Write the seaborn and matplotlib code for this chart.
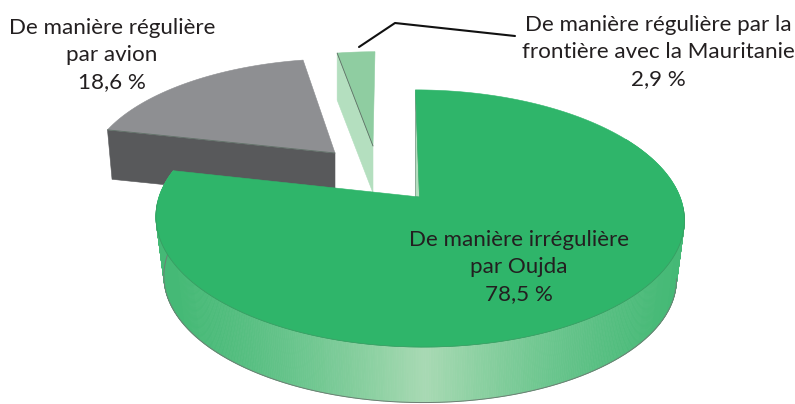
import numpy as np
import seaborn as sns
import matplotlib
matplotlib.use("Agg")
import matplotlib.pyplot as plt

# data
labels = ["De manière irrégulière\npar Oujda\n78,5 %",
          "De manière régulière\npar avion\n18,6 %",
          "De manière régulière par la\nfrontière avec la Mauritanie\n2,9 %"]
shares = [78.5, 18.6, 2.9]

# colours
top_colors = ["#2FB56A", "#8E8F92", "#8FCDA1"]
wall_colors = ["#B4DFBF", "#58595B", "#B4DFBF"]
side_edge = "#45B976"
side_mid = "#A9DAB4"

sns.set_theme(style="white")
plt.rcParams['font.family'] = ['Lato', 'DejaVu Sans']

# layout of each slice in pixels: apex, half axes, skew, thickness, shrink of the lower face
geom = [
    dict(cx=419.5, cy=197, a=125, b=260.5, skew=-4, depth=60, shrink=0.97),
    dict(cx=335, cy=153, a=110, b=243, skew=6, depth=49, shrink=0.98),
    dict(cx=373, cy=146, a=110, b=243, skew=2, depth=47, shrink=1.0),
]
K = 0.167


def project(theta, g, lower=False):
    # theta in degrees clockwise from 12 o'clock, perspective view of the disc
    t = np.radians(theta)
    u, v = np.sin(t), np.cos(t)
    d = 1 + K * v
    dx = g['b'] * u / d + g['skew'] * v
    dy = -g['a'] * v / d
    if lower:
        return g['cx'] + dx * g['shrink'], g['cy'] + g['depth'] + dy * g['shrink']
    return g['cx'] + dx, g['cy'] + dy


def top_face(ax, start, end, g, color):
    th = np.linspace(start, end, 200)
    x, y = project(th, g)
    ax.fill(np.r_[g['cx'], x], np.r_[g['cy'], y], color=color, lw=0.4, zorder=g['z'])


def cut_wall(ax, theta, g, color):
    x0, y0 = project(theta, g)
    x1, y1 = project(theta, g, lower=True)
    xs = [x0, g['cx'], g['cx'], x1]
    ys = [y0, g['cy'], g['cy'] + g['depth'], y1]
    ax.fill(xs, ys, facecolor=color, edgecolor=color, lw=0.4, zorder=g['z'] - 0.5)
    ax.plot([x0, g['cx']], [y0, g['cy']], color="#5f6f66", lw=0.6, zorder=g['z'] + 0.1)


fig, ax = plt.subplots(figsize=(7.95, 4.04), dpi=100)
fig.subplots_adjust(0, 0, 1, 1)
ax.set_xlim(0, 795)
ax.set_ylim(404, 0)
ax.axis('off')

edges = np.r_[0, np.cumsum(shares)] / sum(shares) * 360
main, avion, maur = geom
avion['z'] = 2
maur['z'] = 3
main['z'] = 6

# grey slice
cut_wall(ax, edges[1], avion, wall_colors[1])
top_face(ax, edges[1], edges[2], avion, top_colors[1])

# small green slice
cut_wall(ax, edges[2], maur, wall_colors[2])
top_face(ax, edges[2], edges[3], maur, top_colors[2])

# thin wall at 12 o'clock of the main slice
xa, ya = project(0, main)
ax.fill([xa, main['cx'], main['cx'] - 4], [ya, main['cy'], main['cy']],
        facecolor=wall_colors[0], edgecolor="#6f8f7c", lw=0.5, zorder=4)

# rim of the main slice, lighter towards the front
palette = sns.blend_palette([side_edge, side_mid], n_colors=64)
th = np.linspace(60, edges[1], 500)
for t0, t1 in zip(th[:-1], th[1:]):
    x0, y0 = project(t0, main)
    x1, y1 = project(t1, main)
    x2, y2 = project(t1, main, lower=True)
    x3, y3 = project(t0, main, lower=True)
    w = 1 - min(abs(0.5 * (x0 + x1) - 425) / 262, 1)
    c = palette[int((w ** 1.4) * 63)]
    ax.fill([x0, x1, x2, x3], [y0, y1, y2, y3], facecolor=c, edgecolor=c, lw=0.5, zorder=5)
xb, yb = project(np.linspace(100, edges[1], 300), main, lower=True)
ax.plot(xb, yb, color="#6d7f74", lw=0.7, zorder=5.2)

# main slice on top
top_face(ax, edges[0], edges[1], main, top_colors[0])
xt, yt = project(np.linspace(95, edges[1] - 15, 300), main)
ax.plot(xt, yt, color="#3a9a62", lw=0.5, zorder=6.1)

# leader line
leader_x = [359, 395, 515]
leader_y = [47, 23, 36]
ax.plot(leader_x, leader_y, color="#111111", lw=1.5, zorder=7)

# labels
label_pos = [(519, 267), (112, 55), (658, 52)]
for lab, (tx, ty) in zip(labels, label_pos):
    ax.text(tx, ty, lab, ha='center', va='center', fontsize=16.1, color="#231F20",
            linespacing=1.46, zorder=8)

fig.savefig("out.png", dpi=100)
